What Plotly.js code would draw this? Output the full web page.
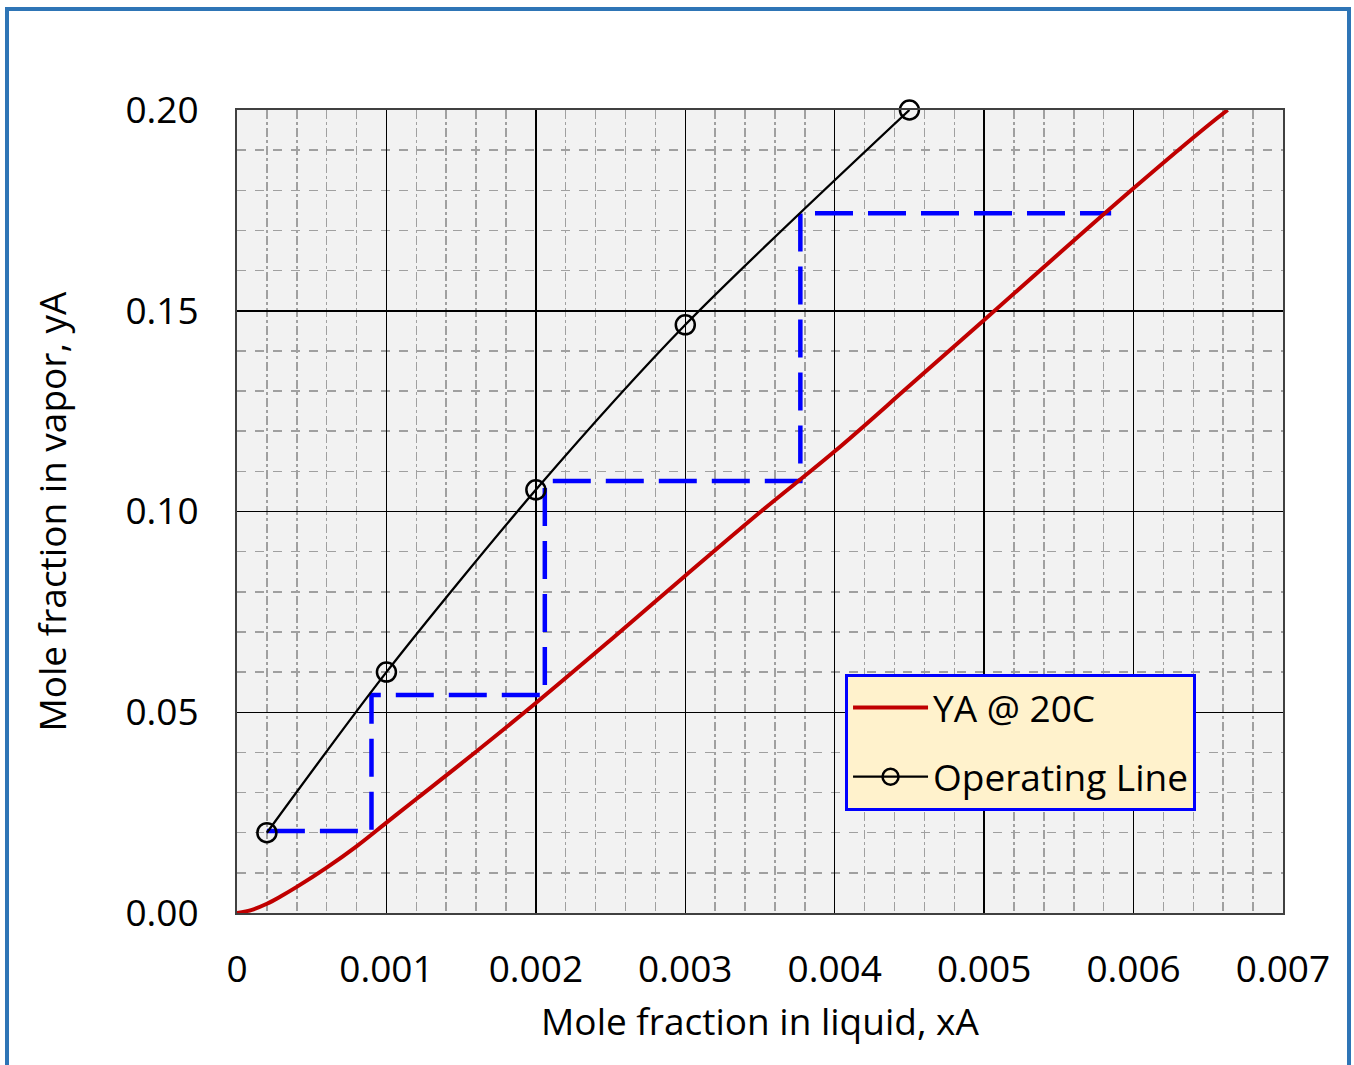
<!DOCTYPE html>
<html>
<head>
<meta charset="utf-8">
<script src="https://cdn.plot.ly/plotly-3.0.1.min.js"></script>
<style>
  html, body { margin: 0; padding: 0; background: #ffffff; overflow: hidden; }
  #chart { width: 1354px; height: 1065px; }
  #frame { position: absolute; left: 5px; top: 7px; width: 1338px; height: 1100px;
           border: 4px solid #2e75b6; pointer-events: none; }
</style>
</head>
<body>
<div id="chart"></div>
<div id="frame"></div>
<script>
// Equilibrium curve (YA @ 20C)
const eqX = [0, 0.0001, 0.0002, 0.0003, 0.0004, 0.0006, 0.0008, 0.001, 0.0012, 0.0015, 0.002, 0.0025, 0.003, 0.0035, 0.004, 0.0045, 0.005, 0.0055, 0.006, 0.0065, 0.00663];
const eqY = [0, 0.0008, 0.0023, 0.0043, 0.0065, 0.0113, 0.0166, 0.0225, 0.0284, 0.0372, 0.0523, 0.0680, 0.0840, 0.0998, 0.1150, 0.1313, 0.1477, 0.1642, 0.1805, 0.1962, 0.2];

// Operating line
const opX = [0.0002, 0.001, 0.002, 0.003, 0.0045];
const opY = [0.02, 0.06, 0.1054, 0.1465, 0.2];

// Stage-stepping construction
const stepX = [0.0002, 0.0009, 0.0009, 0.00206, 0.00206, 0.00377, 0.00377, 0.00585];
const stepY = [0.0204, 0.0204, 0.0543, 0.0543, 0.1076, 0.1076, 0.1743, 0.1743];

// Axis ticks
const xTickVals = [0, 0.001, 0.002, 0.003, 0.004, 0.005, 0.006, 0.007];
const xTickText = ['0', '0.001', '0.002', '0.003', '0.004', '0.005', '0.006', '0.007'];
const yTickVals = [0, 0.05, 0.10, 0.15, 0.20];
const yTickText = ['0.00', '0.05', '0.10', '0.15', '0.20'];

const FONT = 'Open Sans, sans-serif';

const traces = [
  {
    x: stepX, y: stepY, type: 'scatter', mode: 'lines',
    line: { color: '#0000ff', width: 4.5, dash: '38px,15px' },
    showlegend: false, hoverinfo: 'skip'
  },
  {
    x: eqX, y: eqY, type: 'scatter', mode: 'lines', name: 'YA @ 20C',
    line: { color: '#c00000', width: 4, shape: 'spline', smoothing: 1 },
    legendgroup: 'a'
  },
  {
    x: opX, y: opY, type: 'scatter', mode: 'lines+markers', name: 'Operating Line',
    line: { color: '#000000', width: 2.3, shape: 'spline', smoothing: 0.8 },
    marker: { symbol: 'circle-open', size: 19, color: '#000000', line: { width: 2.5, color: '#000000' } },
    cliponaxis: false,
    legendgroup: 'b'
  }
];

const layout = {
  width: 1354, height: 1065,
  margin: { l: 237, r: 71, t: 110, b: 152 },
  paper_bgcolor: '#ffffff',
  plot_bgcolor: '#f2f2f2',
  font: { family: FONT, size: 37, color: '#000000' },
  xaxis: {
    range: [0, 0.007],
    tickvals: xTickVals, ticktext: xTickText,
    ticks: '', ticklabelstandoff: 23,
    showgrid: true, gridcolor: '#000000', gridwidth: 1.5,
    minor: { dtick: 0.0002, showgrid: true, gridcolor: '#a0a0a0', gridwidth: 1.5, griddash: 'dashdot', ticks: '' },
    showline: true, linecolor: '#404040', linewidth: 2, mirror: true,
    zeroline: false,
    tickfont: { family: FONT, size: 37, color: '#000000' },
    title: { text: 'Mole fraction in liquid, xA', font: { family: FONT, size: 37, color: '#000000' }, standoff: 17 }
  },
  yaxis: {
    range: [0, 0.2],
    tickvals: yTickVals, ticktext: yTickText,
    ticks: '', ticklabelstandoff: 29,
    showgrid: true, gridcolor: '#000000', gridwidth: 1.5,
    minor: { dtick: 0.01, showgrid: true, gridcolor: '#a0a0a0', gridwidth: 1.5, griddash: 'dash', ticks: '' },
    showline: true, linecolor: '#404040', linewidth: 2, mirror: true,
    zeroline: false,
    tickfont: { family: FONT, size: 37, color: '#000000' },
    title: { text: 'Mole fraction in vapor, yA', font: { family: FONT, size: 37, color: '#000000' }, standoff: 47 }
  },
  legend: {
    x: 0.5813, y: 0.2976, xanchor: 'left', yanchor: 'top',
    bgcolor: '#fff2cc', bordercolor: '#0000ff', borderwidth: 3,
    font: { family: FONT, size: 37, color: '#000000' },
    tracegroupgap: 18, traceorder: 'grouped',
    itemwidth: 75
  },
  showlegend: true
};

Plotly.newPlot('chart', traces, layout, { displayModeBar: false, staticPlot: true });
</script>
</body>
</html>
